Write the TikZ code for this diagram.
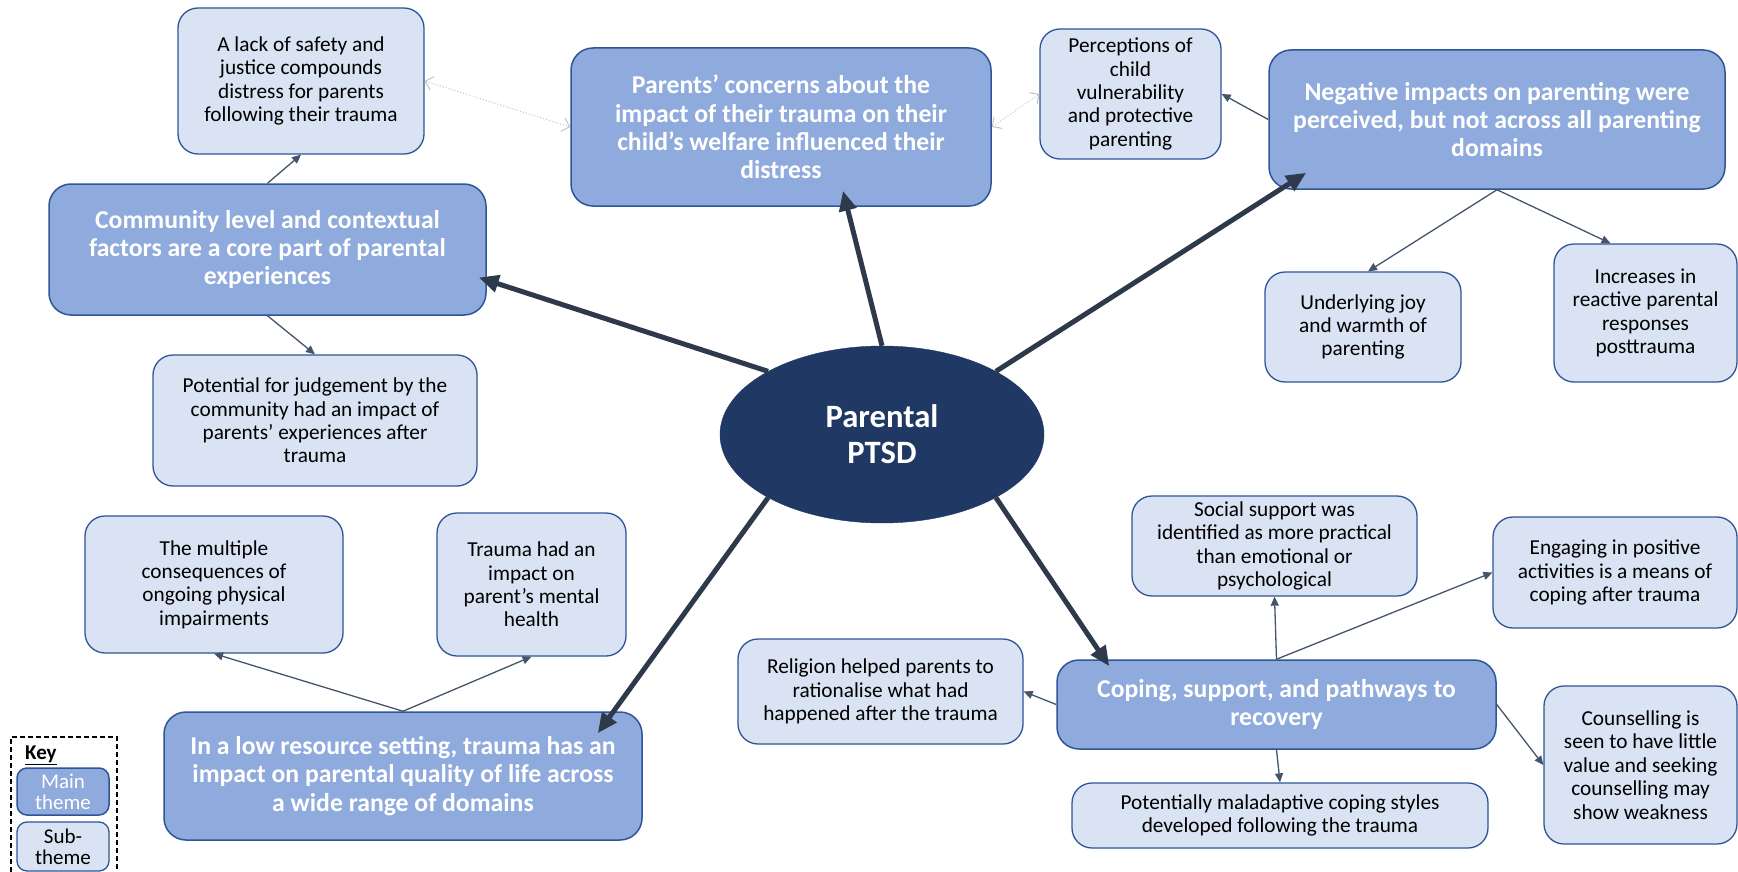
\documentclass[tikz,border=0pt]{standalone}
\usepackage{fontspec}
\setmainfont{Carlito}
\usetikzlibrary{arrows.meta,shapes.geometric}
\definecolor{mainfill}{RGB}{143,170,220}
\definecolor{subfill}{RGB}{218,227,243}
\definecolor{boxline}{RGB}{47,85,151}
\definecolor{hub}{RGB}{32,56,100}
\definecolor{spoke}{RGB}{46,58,76}
\definecolor{thinline}{RGB}{68,84,106}
\definecolor{faint}{RGB}{195,195,195}
\begin{document}
\begin{tikzpicture}[x=1pt,y=-1pt,
  wh/.style 2 args={minimum width=#1pt, minimum height=#2pt},
  mainbox/.style={draw=boxline, line width=1.5pt, fill=mainfill, rounded corners=22pt,
    text=white, font=\fontsize{25.7}{28.2}\selectfont\bfseries, align=center, inner sep=0pt},
  subbox/.style={draw=boxline, line width=1.3pt, fill=subfill, rounded corners=20pt,
    text=black, font=\fontsize{21.3}{23.4}\selectfont, align=center, inner sep=0pt},
  spokearrow/.style={draw=spoke, line width=5pt, -{Triangle[length=20pt,width=17pt]}},
  link/.style={draw=thinline, line width=1.3pt, -{Triangle[length=9pt,width=8pt]}},
  faintlink/.style={draw=faint, line width=1pt, dotted,
    {Straight Barb[length=7pt,width=14pt]}-{Straight Barb[length=7pt,width=14pt]}},
]
\useasboundingbox (0,0) rectangle (1738,872);

% central theme
\node[ellipse, fill=hub, draw=hub, wh={324}{177}, inner sep=0pt, text=white, align=center,
  font=\fontsize{32.6}{36}\selectfont\bfseries] (ell) at (882,434.5) {Parental\\PTSD};

% main themes
\node[mainbox, wh={437}{131}] (comm) at (267.5,249.5)
  {Community level and contextual\\factors are a core part of parental\\experiences};
\node[mainbox, wh={420}{158}] (parents) at (781,127)
  {Parents’ concerns about the\\impact of their trauma on their\\child’s welfare influenced their\\distress};
\node[mainbox, wh={456}{139}] (neg) at (1497,119.5)
  {Negative impacts on parenting were\\perceived, but not across all parenting\\domains};
\node[mainbox, wh={478}{128}] (low) at (403,776)
  {In a low resource setting, trauma has an\\impact on parental quality of life across\\a wide range of domains};
\node[mainbox, wh={439}{89}] (coping) at (1276.5,704.5)
  {Coping, support, and pathways to\\recovery};

% sub-themes
\node[subbox, wh={246}{146}] (lack) at (301,81)
  {A lack of safety and\\justice compounds\\distress for parents\\following their trauma};
\node[subbox, wh={324}{131}] (potential) at (315,420.5)
  {Potential for judgement by the\\community had an impact of\\parents’ experiences after\\trauma};
\node[subbox, wh={181}{130}] (perc) at (1130.5,94)
  {Perceptions of\\child\\vulnerability\\and protective\\parenting};
\node[subbox, wh={196}{110}] (joy) at (1363,327)
  {Underlying joy\\and warmth of\\parenting};
\node[subbox, wh={183}{138}] (incr) at (1645.5,313)
  {Increases in\\reactive parental\\responses\\posttrauma};
\node[subbox, wh={258}{137}] (mult) at (214,584.5)
  {The multiple\\consequences of\\ongoing physical\\impairments};
\node[subbox, wh={189}{143}] (trauma) at (531.5,584.5)
  {Trauma had an\\impact on\\parent’s mental\\health};
\node[subbox, wh={285}{100}] (social) at (1274.5,546)
  {Social support was\\identified as more practical\\than emotional or\\psychological};
\node[subbox, wh={244}{111}] (eng) at (1615,572.5)
  {Engaging in positive\\activities is a means of\\coping after trauma};
\node[subbox, wh={285}{105}] (relig) at (880.5,691.5)
  {Religion helped parents to\\rationalise what had\\happened after the trauma};
\node[subbox, wh={416}{65}] (mal) at (1280,815.5)
  {Potentially maladaptive coping styles\\developed following the trauma};
\node[subbox, wh={193}{158}] (couns) at (1640.5,765)
  {Counselling is\\seen to have little\\value and seeking\\counselling may\\show weakness};

% spokes from the centre
\draw[spokearrow] (ell.151) -- ([xshift=-8pt,yshift=-28pt]comm.east);
\draw[spokearrow] (ell.90) -- ([xshift=62pt,yshift=16pt]parents.south);
\draw[spokearrow] (ell.29) -- ([xshift=38pt,yshift=17pt]neg.south west);
\draw[spokearrow] (ell.209) -- ([xshift=-45pt,yshift=-22pt]low.north east);
\draw[spokearrow] (ell.-29) -- ([xshift=53pt,yshift=-7pt]coping.north west);

% links to sub-themes
\draw[link] (comm.north) -- (lack.south);
\draw[link] (comm.south) -- (potential.north);
\draw[faintlink] (lack.east) -- (parents.west);
\draw[faintlink] (parents.east) -- (perc.west);
\draw[link] (neg.west) -- (perc.east);
\draw[link] (neg.south) -- ([xshift=5pt]joy.north);
\draw[link] (neg.south) -- ([xshift=-35pt]incr.north);
\draw[link] (low.north) -- (mult.south);
\draw[link] (low.north) -- (trauma.south);
\draw[link] (coping.north) -- (social.south);
\draw[link] (coping.north) -- (eng.west);
\draw[link] (coping.west) -- (relig.east);
\draw[link] (coping.south) -- (mal.north);
\draw[link] (coping.east) -- (couns.west);

% key
\draw[line width=1.2pt, dash pattern=on 5pt off 3pt] (11,872) -- (11,737) -- (117,737) -- (117,872);
\node[anchor=base west, inner sep=0pt, font=\fontsize{21}{23}\selectfont\bfseries] (keytitle) at (25,759) {\underline{Key}};
\node[mainbox, rounded corners=10pt, font=\fontsize{21}{21}\selectfont, wh={92}{47}] (keymain) at (63,791.5) {Main\\theme};
\node[subbox, rounded corners=10pt, font=\fontsize{21}{21}\selectfont, wh={92}{49}] (keysub) at (63,846.5) {Sub-\\theme};
\end{tikzpicture}
\end{document}
